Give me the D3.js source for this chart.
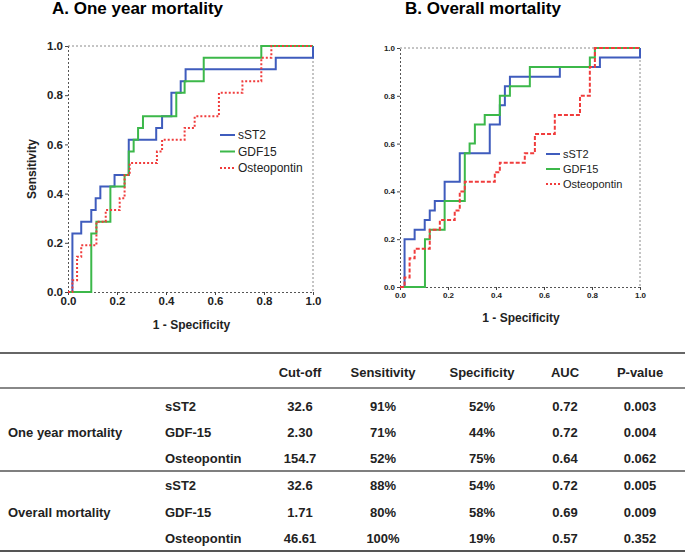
<!DOCTYPE html>
<html>
<head>
<meta charset="utf-8">
<script src="https://cdn.jsdelivr.net/npm/d3@7"></script>
<style>
  body { margin: 0; background: #fff; }
  svg { display: block; font-family: "Liberation Sans", Arial, sans-serif; }
</style>
</head>
<body>
<svg id="chart" width="685" height="552"></svg>
<script>
// ROC curves: [1 - specificity, sensitivity] at each step
const seriesNames = ['sST2', 'GDF15', 'Osteopontin'];

const oneYearSst2 = [[0, 0], [0.018, 0.238], [0.054, 0.286], [0.095, 0.333], [0.113, 0.381], [0.132, 0.429],
  [0.19, 0.476], [0.248, 0.619], [0.36, 0.667], [0.384, 0.714], [0.422, 0.81], [0.46, 0.857],
  [0.48, 0.905], [0.848, 0.952], [1, 1]];
const oneYearGdf15 = [[0, 0], [0.095, 0.238], [0.116, 0.286], [0.173, 0.429], [0.231, 0.476], [0.248, 0.571],
  [0.268, 0.619], [0.286, 0.667], [0.306, 0.714], [0.442, 0.81], [0.476, 0.857], [0.554, 0.952],
  [0.789, 1], [1, 1]];
const oneYearOpn = [[0, 0], [0.018, 0.048], [0.037, 0.143], [0.054, 0.19], [0.116, 0.286], [0.154, 0.333],
  [0.211, 0.381], [0.231, 0.476], [0.252, 0.524], [0.363, 0.571], [0.384, 0.619], [0.476, 0.667],
  [0.517, 0.714], [0.616, 0.81], [0.712, 0.857], [0.789, 0.952], [0.83, 1], [1, 1]];

const overallSst2 = [[0, 0], [0.019, 0.2], [0.061, 0.24], [0.103, 0.28], [0.124, 0.32], [0.145, 0.36],
  [0.186, 0.44], [0.249, 0.56], [0.374, 0.68], [0.416, 0.76], [0.437, 0.84], [0.458, 0.88],
  [0.666, 0.92], [0.833, 0.96], [1, 1]];
const overallGdf15 = [[0, 0], [0.104, 0.2], [0.124, 0.24], [0.186, 0.36], [0.27, 0.56], [0.29, 0.6],
  [0.312, 0.68], [0.353, 0.72], [0.416, 0.8], [0.458, 0.84], [0.541, 0.92], [0.791, 0.96],
  [0.812, 1], [1, 1]];
const overallOpn = [[0, 0], [0.019, 0.04], [0.04, 0.12], [0.061, 0.16], [0.124, 0.24], [0.166, 0.28],
  [0.228, 0.32], [0.249, 0.4], [0.27, 0.44], [0.395, 0.48], [0.416, 0.52], [0.52, 0.56],
  [0.562, 0.64], [0.645, 0.72], [0.75, 0.8], [0.791, 0.92], [0.812, 1], [1, 1]];

const tickValues = [0, 0.2, 0.4, 0.6, 0.8, 1.0];

// table
const tableHeaders = ['Cut-off', 'Sensitivity', 'Specificity', 'AUC', 'P-value'];
const groupNames = ['One year mortality', 'Overall mortality'];
const markerNames = ['sST2', 'GDF-15', 'Osteopontin'];
const oneYearRows = [
  ['32.6', '91%', '52%', '0.72', '0.003'],
  ['2.30', '71%', '44%', '0.72', '0.004'],
  ['154.7', '52%', '75%', '0.64', '0.062']
];
const overallRows = [
  ['32.6', '88%', '54%', '0.72', '0.005'],
  ['1.71', '80%', '58%', '0.69', '0.009'],
  ['46.61', '100%', '19%', '0.57', '0.352']
];

const colors = ['#3f5cbd', '#3cb84a', '#f03c3c'];
const svg = d3.select('#chart');

function drawPanel(cfg) {
  const g = svg.append('g');
  const x = d3.scaleLinear().domain([0, 1]).range([cfg.left, cfg.right]);
  const y = d3.scaleLinear().domain([0, 1]).range([cfg.bottom, cfg.top]);

  // title
  g.append('text')
    .attr('x', cfg.titleX).attr('y', 14)
    .attr('font-size', 17).attr('font-weight', 'bold')
    .text(cfg.title);

  // dotted frame (top / right)
  g.append('path')
    .attr('d', `M${cfg.left},${cfg.top}H${cfg.right}V${cfg.bottom}`)
    .attr('fill', 'none').attr('stroke', '#8a8a8a')
    .attr('stroke-dasharray', '2,2');

  // axes
  const xAxis = g.append('g')
    .attr('transform', `translate(0,${cfg.bottom})`)
    .call(d3.axisBottom(x).tickValues(tickValues).tickFormat(d3.format('.1f')).tickSize(3).tickPadding(2));
  const yAxis = g.append('g')
    .attr('transform', `translate(${cfg.left},0)`)
    .call(d3.axisLeft(y).tickValues(tickValues).tickFormat(d3.format('.1f')).tickSize(3).tickPadding(2));
  [xAxis, yAxis].forEach(a => {
    a.select('.domain').attr('stroke', '#555').attr('stroke-dasharray', '2,2');
    a.selectAll('.tick line').attr('stroke', '#444');
    a.selectAll('.tick text')
      .attr('font-family', '"Liberation Sans", Arial, sans-serif')
      .attr('font-size', cfg.tickFont).attr('font-weight', 'bold').attr('fill', '#222');
  });

  g.append('text')
    .attr('x', (cfg.left + cfg.right) / 2 + 1).attr('y', cfg.xLabelY)
    .attr('text-anchor', 'middle')
    .attr('font-size', 12).attr('font-weight', 'bold').attr('fill', '#222')
    .text('1 - Specificity');

  if (cfg.yLabel) {
    g.append('text')
      .attr('transform', `translate(${cfg.yLabelX},${(cfg.top + cfg.bottom) / 2}) rotate(-90)`)
      .attr('text-anchor', 'middle')
      .attr('font-size', 12).attr('font-weight', 'bold').attr('fill', '#222')
      .text(cfg.yLabel);
  }

  const line = d3.line()
    .x(d => x(d[0]))
    .y(d => y(d[1]))
    .curve(d3.curveStepAfter);

  cfg.series.forEach((s, i) => {
    g.append('path')
      .datum(s)
      .attr('d', line)
      .attr('fill', 'none')
      .attr('stroke', colors[i])
      .attr('stroke-width', 2)
      .attr('stroke-dasharray', i === 2 ? cfg.redDash : null);
  });

  // legend (osteopontin key is dotted in both panels)
  const lg = g.append('g');
  seriesNames.forEach((name, i) => {
    const ly = cfg.legY + i * cfg.legStep;
    lg.append('line')
      .attr('x1', cfg.legX).attr('x2', cfg.legX + cfg.legLen)
      .attr('y1', ly).attr('y2', ly)
      .attr('stroke', colors[i]).attr('stroke-width', 2)
      .attr('stroke-dasharray', i === 2 ? '2,2' : null);
    lg.append('text')
      .attr('x', cfg.legX + cfg.legLen + 3).attr('y', ly)
      .attr('dy', '0.35em')
      .attr('font-size', cfg.legFont).attr('fill', '#222')
      .text(name);
  });
}

drawPanel({
  title: 'A. One year mortality', titleX: 52,
  left: 68, right: 313, top: 46, bottom: 292,
  tickFont: 11.5, xLabelY: 329, yLabel: 'Sensitivity', yLabelX: 36,
  series: [oneYearSst2, oneYearGdf15, oneYearOpn], redDash: '2,2',
  legX: 220, legY: 135, legStep: 16.5, legLen: 15, legFont: 12
});

drawPanel({
  title: 'B. Overall mortality', titleX: 405,
  left: 400, right: 640, top: 48, bottom: 287,
  tickFont: 8, xLabelY: 322, yLabel: null,
  series: [overallSst2, overallGdf15, overallOpn], redDash: '4,2',
  legX: 546, legY: 154, legStep: 15, legLen: 14, legFont: 11
});

// table
const tbl = svg.append('g').attr('font-size', 13).attr('font-weight', 'bold').attr('fill', '#222');
const colX = [300, 383, 482, 565, 640];
const rowY = [406, 432, 458, 485, 512, 538];

[[353, '#333', 1.5], [388, '#888', 2], [471, '#555', 1.5], [551, '#555', 2]].forEach(([yy, c, w]) => {
  tbl.append('line').attr('x1', 0).attr('x2', 685).attr('y1', yy).attr('y2', yy)
    .attr('stroke', c).attr('stroke-width', w);
});

tableHeaders.forEach((h, j) => {
  tbl.append('text').attr('x', colX[j]).attr('y', 372).attr('dy', '0.35em')
    .attr('text-anchor', 'middle').text(h);
});

[oneYearRows, overallRows].forEach((rows, gi) => {
  tbl.append('text').attr('x', 8).attr('y', rowY[gi * 3 + 1]).attr('dy', '0.35em')
    .text(groupNames[gi]);
  rows.forEach((r, ri) => {
    const yy = rowY[gi * 3 + ri];
    tbl.append('text').attr('x', 165).attr('y', yy).attr('dy', '0.35em').text(markerNames[ri]);
    r.forEach((v, j) => {
      tbl.append('text').attr('x', colX[j]).attr('y', yy).attr('dy', '0.35em')
        .attr('text-anchor', 'middle').text(v);
    });
  });
});
</script>
</body>
</html>
